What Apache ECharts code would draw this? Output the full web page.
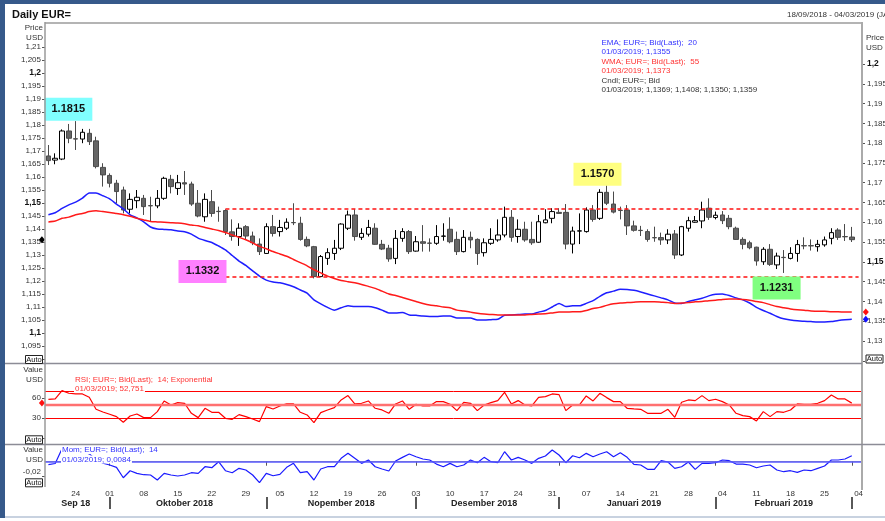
<!DOCTYPE html>
<html>
<head>
<meta charset="utf-8">
<title>Daily EUR=</title>
<script src="https://cdn.jsdelivr.net/npm/echarts@6.0.0/dist/echarts.min.js"></script>
<style>
  html, body { margin: 0; padding: 0; background: #fff; }
  #chart { width: 885px; height: 521px; }
</style>
</head>
<body>
<div id="chart"></div>
<script>
// trading calendar (weekdays only) shown on the time axis
const firstDay = '2018-09-18';
const lastDay = '2019-03-04';
const monthLabels = ['Sep 18', 'Oktober 2018', 'Nopember 2018', 'Desember 2018', 'Januari 2019', 'Februari 2019'];

// daily candles (left scale)
const opens = [
  1.1681, 1.1665, 1.1669, 1.1777, 1.1747, 1.1746, 1.1768, 1.1739, 1.1637, 1.1606,
  1.1576, 1.1550, 1.1476, 1.1509, 1.1518, 1.1490, 1.1489, 1.1518, 1.1591, 1.1556,
  1.1578, 1.1573, 1.1499, 1.1447, 1.1505, 1.1468, 1.1471, 1.1389, 1.1371, 1.1409,
  1.1373, 1.1342, 1.1306, 1.1409, 1.1390, 1.1403, 1.1425, 1.1422, 1.1360, 1.1332,
  1.1217, 1.1287, 1.1306, 1.1326, 1.1403, 1.1454, 1.1368, 1.1380, 1.1403, 1.1341,
  1.1326, 1.1287, 1.1364, 1.1390, 1.1315, 1.1351, 1.1346, 1.1345, 1.1372, 1.1399,
  1.1360, 1.1313, 1.1368, 1.1360, 1.1309, 1.1345, 1.1358, 1.1377, 1.1445, 1.1371,
  1.1399, 1.1360, 1.1349, 1.1424, 1.1441, 1.1464, 1.1464, 1.1342, 1.1392, 1.1390,
  1.1473, 1.1441, 1.1541, 1.1496, 1.1472, 1.1473, 1.1412, 1.1395, 1.1390, 1.1367,
  1.1367, 1.1358, 1.1381, 1.1300, 1.1403, 1.1426, 1.1431, 1.1480, 1.1444, 1.1454,
  1.1441, 1.1403, 1.1360, 1.1347, 1.1330, 1.1274, 1.1322, 1.1262, 1.1291, 1.1287,
  1.1306, 1.1336, 1.1336, 1.1332, 1.1339, 1.1364, 1.1396, 1.1371, 1.1369
];
const closes = [
  1.1663, 1.1672, 1.1777, 1.1749, 1.1746, 1.1772, 1.1736, 1.1640, 1.1608, 1.1576,
  1.1544, 1.1473, 1.1514, 1.1522, 1.1486, 1.1489, 1.1518, 1.1595, 1.1563, 1.1578,
  1.1573, 1.1496, 1.1450, 1.1514, 1.1460, 1.1467, 1.1390, 1.1371, 1.1403, 1.1373,
  1.1347, 1.1313, 1.1409, 1.1383, 1.1406, 1.1426, 1.1424, 1.1360, 1.1335, 1.1217,
  1.1294, 1.1309, 1.1326, 1.1419, 1.1454, 1.1371, 1.1383, 1.1406, 1.1341, 1.1323,
  1.1285, 1.1364, 1.1390, 1.1313, 1.1351, 1.1345, 1.1345, 1.1371, 1.1373, 1.1351,
  1.1313, 1.1368, 1.1358, 1.1306, 1.1347, 1.1360, 1.1377, 1.1445, 1.1368, 1.1399,
  1.1358, 1.1347, 1.1428, 1.1435, 1.1467, 1.1460, 1.1342, 1.1392, 1.1393, 1.1473,
  1.1437, 1.1541, 1.1499, 1.1465, 1.1471, 1.1412, 1.1395, 1.1394, 1.1360, 1.1366,
  1.1358, 1.1380, 1.1300, 1.1409, 1.1432, 1.1432, 1.1473, 1.1445, 1.1453, 1.1432,
  1.1409, 1.1360, 1.1341, 1.1328, 1.1277, 1.1322, 1.1264, 1.1296, 1.1290, 1.1306,
  1.1340, 1.1335, 1.1335, 1.1341, 1.1358, 1.1386, 1.1368, 1.1370, 1.1359
];
const lows = [
  1.1646, 1.1649, 1.1665, 1.1730, 1.1704, 1.1730, 1.1723, 1.1633, 1.1563, 1.1560,
  1.1499, 1.1460, 1.1460, 1.1480, 1.1454, 1.1428, 1.1480, 1.1512, 1.1537, 1.1531,
  1.1531, 1.1489, 1.1445, 1.1428, 1.1447, 1.1428, 1.1377, 1.1355, 1.1335, 1.1358,
  1.1338, 1.1300, 1.1304, 1.1371, 1.1371, 1.1396, 1.1415, 1.1355, 1.1330, 1.1210,
  1.1215, 1.1262, 1.1281, 1.1319, 1.1396, 1.1355, 1.1358, 1.1371, 1.1339, 1.1319,
  1.1274, 1.1265, 1.1351, 1.1304, 1.1313, 1.1313, 1.1313, 1.1339, 1.1355, 1.1345,
  1.1300, 1.1310, 1.1326, 1.1262, 1.1294, 1.1339, 1.1351, 1.1368, 1.1351, 1.1347,
  1.1351, 1.1339, 1.1347, 1.1422, 1.1422, 1.1458, 1.1322, 1.1306, 1.1342, 1.1386,
  1.1428, 1.1435, 1.1492, 1.1460, 1.1437, 1.1377, 1.1390, 1.1373, 1.1351, 1.1351,
  1.1339, 1.1342, 1.1285, 1.1296, 1.1390, 1.1424, 1.1403, 1.1435, 1.1437, 1.1419,
  1.1399, 1.1358, 1.1322, 1.1322, 1.1259, 1.1262, 1.1258, 1.1246, 1.1231, 1.1283,
  1.1274, 1.1322, 1.1317, 1.1313, 1.1332, 1.1341, 1.1358, 1.1354, 1.1350
];
const highs = [
  1.1723, 1.1691, 1.1783, 1.1804, 1.1815, 1.1785, 1.1785, 1.1755, 1.1653, 1.1614,
  1.1589, 1.1563, 1.1537, 1.1550, 1.1531, 1.1524, 1.1550, 1.1601, 1.1608, 1.1608,
  1.1623, 1.1582, 1.1550, 1.1537, 1.1550, 1.1486, 1.1476, 1.1437, 1.1422, 1.1415,
  1.1390, 1.1364, 1.1422, 1.1454, 1.1435, 1.1441, 1.1499, 1.1447, 1.1371, 1.1335,
  1.1300, 1.1326, 1.1358, 1.1422, 1.1471, 1.1476, 1.1403, 1.1435, 1.1422, 1.1358,
  1.1339, 1.1396, 1.1403, 1.1396, 1.1373, 1.1415, 1.1364, 1.1415, 1.1422, 1.1445,
  1.1390, 1.1396, 1.1390, 1.1364, 1.1364, 1.1403, 1.1437, 1.1486, 1.1473, 1.1437,
  1.1428, 1.1428, 1.1454, 1.1476, 1.1480, 1.1480, 1.1496, 1.1409, 1.1460, 1.1483,
  1.1492, 1.1553, 1.1568, 1.1544, 1.1486, 1.1492, 1.1432, 1.1412, 1.1399, 1.1409,
  1.1386, 1.1399, 1.1396, 1.1412, 1.1447, 1.1450, 1.1505, 1.1518, 1.1467, 1.1469,
  1.1454, 1.1409, 1.1368, 1.1355, 1.1332, 1.1330, 1.1342, 1.1309, 1.1319, 1.1330,
  1.1358, 1.1368, 1.1360, 1.1358, 1.1371, 1.1403, 1.1403, 1.1419, 1.1408
];

// moving averages, plotted against the right-hand price scale
const ema20 = [
  1.1619, 1.1624, 1.1635, 1.1644, 1.1651, 1.1661, 1.1674, 1.1674, 1.1667, 1.1659,
  1.1646, 1.1634, 1.1619, 1.1611, 1.1601, 1.1588, 1.1583, 1.1582, 1.1581, 1.1578,
  1.1576, 1.1570, 1.1560, 1.1554, 1.1549, 1.1540, 1.1530, 1.1516, 1.1502, 1.1491,
  1.1477, 1.1464, 1.1454, 1.1449, 1.1447, 1.1443, 1.1437, 1.1429, 1.1421, 1.1404,
  1.1394, 1.1385, 1.1378, 1.1384, 1.1389, 1.1387, 1.1387, 1.1387, 1.1384, 1.1378,
  1.1371, 1.1371, 1.1372, 1.1366, 1.1365, 1.1363, 1.1362, 1.1362, 1.1363, 1.1363,
  1.1358, 1.1358, 1.1358, 1.1353, 1.1353, 1.1354, 1.1355, 1.1365, 1.1366, 1.1367,
  1.1368, 1.1368, 1.1373, 1.1377, 1.1386, 1.1395, 1.1387, 1.1389, 1.1389, 1.1395,
  1.1402, 1.1413, 1.1422, 1.1426, 1.1431, 1.1430, 1.1428, 1.1424, 1.1419, 1.1414,
  1.1409, 1.1404, 1.1396, 1.1395, 1.1400, 1.1404, 1.1408, 1.1414, 1.1418, 1.1419,
  1.1415, 1.1409, 1.1404, 1.1396, 1.1385, 1.1377, 1.1370, 1.1362, 1.1356, 1.1353,
  1.1351, 1.1350, 1.1349, 1.1348, 1.1348, 1.1349, 1.1352, 1.1354, 1.1355
];
const wma55 = [
  1.1601, 1.1603, 1.1610, 1.1613, 1.1619, 1.1622, 1.1627, 1.1629, 1.1627, 1.1625,
  1.1622, 1.1619, 1.1615, 1.1610, 1.1606, 1.1602, 1.1601, 1.1600, 1.1599, 1.1598,
  1.1596, 1.1593, 1.1591, 1.1587, 1.1583, 1.1579, 1.1574, 1.1568, 1.1562, 1.1556,
  1.1548, 1.1539, 1.1533, 1.1526, 1.1520, 1.1514, 1.1506, 1.1498, 1.1490, 1.1480,
  1.1472, 1.1464, 1.1458, 1.1453, 1.1450, 1.1447, 1.1443, 1.1438, 1.1433, 1.1426,
  1.1419, 1.1415, 1.1410, 1.1405, 1.1400, 1.1395, 1.1391, 1.1389, 1.1386, 1.1384,
  1.1378, 1.1376, 1.1373, 1.1370, 1.1368, 1.1367, 1.1366, 1.1366, 1.1366, 1.1366,
  1.1366, 1.1367, 1.1368, 1.1369, 1.1371, 1.1373, 1.1373, 1.1374, 1.1374, 1.1377,
  1.1382, 1.1385, 1.1390, 1.1394, 1.1396, 1.1397, 1.1398, 1.1399, 1.1399, 1.1399,
  1.1398, 1.1397, 1.1395, 1.1396, 1.1397, 1.1399, 1.1400, 1.1402, 1.1403, 1.1405,
  1.1406, 1.1406, 1.1405, 1.1403, 1.1400, 1.1397, 1.1392, 1.1387, 1.1384, 1.1381,
  1.1379, 1.1378, 1.1376, 1.1375, 1.1375, 1.1374, 1.1374, 1.1373, 1.1373
];

// RSI(14) and momentum(14) panels
const rsi14 = [
  58.5, 59, 71.5, 67.5, 66.5, 66.5, 61.5, 43.5, 39.5, 36,
  32.5, 24, 33.5, 36.5, 31, 31, 40, 56, 50, 53.5,
  52.5, 37.5, 31, 45, 39, 39, 30, 28.5, 35.5, 32.5,
  29, 25, 47.5, 44, 48.5, 51.5, 51.5, 39, 35, 23.5,
  38.5, 42.5, 46, 57.5, 64, 51.5, 52.5, 56, 45, 42.5,
  37.5, 51.5, 56, 43.5, 51, 48.5, 48.5, 55, 55, 51,
  41.5, 54, 52.5, 41.5, 50, 53.5, 56.5, 69, 51.5, 56.5,
  50, 48.5, 61.5, 62.5, 66.5, 65.5, 41.5, 50, 50, 63.5,
  56, 67.5, 61, 55, 55, 45, 44, 43.5, 37.5, 37.5,
  37.5, 43.5, 31.5, 54, 57.5, 56.5, 64, 56.5, 58.5, 55,
  50, 37.5, 34, 32.5, 26, 40, 32.5, 40, 39, 42.5,
  51.5, 51, 51, 52.5, 56.5, 65, 59, 59, 52.751
];
const mom14 = [
  -0.0040, -0.0025, 0.0180, 0.0190, 0.0170, 0.0140, 0.0110, 0.0030, -0.0020, -0.0046,
  -0.0079, -0.0224, -0.0126, -0.0163, -0.0182, -0.0186, -0.0256, -0.0163, -0.0186, -0.0200,
  -0.0186, -0.0154, -0.0163, -0.0070, -0.0084, 0.0000, -0.0126, -0.0154, -0.0093, -0.0116,
  -0.0186, -0.0294, -0.0163, -0.0196, -0.0177, -0.0079, -0.0023, -0.0154, -0.0140, -0.0256,
  -0.0102, -0.0070, -0.0070, 0.0047, 0.0117, 0.0047, -0.0023, 0.0024, -0.0070, -0.0102,
  -0.0130, 0.0010, 0.0061, 0.0108, 0.0070, 0.0038, 0.0024, -0.0033, -0.0070, -0.0023,
  -0.0070, -0.0046, 0.0024, -0.0014, 0.0061, 0.0000, -0.0014, 0.0140, 0.0024, 0.0061,
  0.0024, -0.0023, 0.0047, 0.0080, 0.0164, 0.0094, -0.0014, 0.0084, 0.0056, 0.0117,
  0.0070, 0.0108, 0.0140, 0.0070, 0.0126, 0.0061, -0.0037, -0.0046, -0.0107, -0.0107,
  0.0014, -0.0004, -0.0093, -0.0070, -0.0004, -0.0107, -0.0023, -0.0023, -0.0014, 0.0024,
  0.0014, -0.0033, -0.0033, -0.0046, -0.0084, -0.0060, -0.0046, -0.0116, -0.0140, -0.0126,
  -0.0149, -0.0116, -0.0126, -0.0093, -0.0060, 0.0024, 0.0024, 0.0038, 0.0084
];

// horizontal channel and callout labels drawn on the price panel
const channelLevels = [1.1477, 1.1215];
const calloutTexts = ['1.1815', '1.1332', '1.1570', '1.1231'];

// axis tick values
const leftPriceTicks = [1.09, 1.095, 1.1, 1.105, 1.11, 1.115, 1.12, 1.125, 1.13, 1.135, 1.14, 1.145,
  1.15, 1.155, 1.16, 1.165, 1.17, 1.175, 1.18, 1.185, 1.19, 1.195, 1.2, 1.205, 1.21];
const rightPriceTicks = [1.125, 1.13, 1.135, 1.14, 1.145, 1.15, 1.155, 1.16, 1.165, 1.17, 1.175,
  1.18, 1.185, 1.19, 1.195, 1.2];
const rsiTicks = [0, 30, 60];
const momTicks = [-0.02];

const dates = [];
for (let d = new Date(firstDay + 'T00:00:00Z'); d <= new Date(lastDay + 'T00:00:00Z'); d.setUTCDate(d.getUTCDate() + 1)) {
  const wd = d.getUTCDay();
  if (wd !== 0 && wd !== 6) dates.push(d.toISOString().slice(0, 10));
}
const last = closes.length - 1;
const candles = opens.map((o, i) => [o, closes[i], lows[i], highs[i]]);

const FONT = 'Arial, "Liberation Sans", sans-serif';
const comma = (v, d) => v.toFixed(d).replace('.', ',');
const dmy = s => s.slice(8, 10) + '/' + s.slice(5, 7) + '/' + s.slice(0, 4);
const isMonday = s => new Date(s + 'T00:00:00Z').getUTCDay() === 1;

// month groups for the second row of the time axis
const groups = [];
dates.forEach((d, i) => {
  const k = d.slice(0, 7);
  if (!groups.length || groups[groups.length - 1].k !== k) groups.push({ k: k, first: i, last: i });
  else groups[groups.length - 1].last = i;
});
const monthStarts = new Set(groups.slice(1).map(g => g.first));
const monthMid = {};
groups.forEach((g, j) => {
  if (monthLabels[j]) monthMid[Math.round((g.first + g.last) / 2)] = monthLabels[j];
});

function priceLabel(v) {
  const s = String(Math.round(v * 1000) / 1000).replace('.', ',');
  return Math.round(v * 1000) % 50 === 0 ? '{b|' + s + '}' : s;
}

function text(str, x, y, o) {
  o = o || {};
  const style = {
    text: str, x: x, y: y,
    font: (o.bold ? 'bold ' : '') + (o.size || 8) + 'px ' + FONT,
    fill: o.color || '#222',
    align: o.align || 'left',
    verticalAlign: 'middle'
  };
  if (o.bg) { style.backgroundColor = o.bg; style.padding = [0, 1]; }
  return { type: 'text', z: 100, silent: true, style: style };
}
function line(x1, y1, x2, y2, color, w) {
  return { type: 'line', z: 90, silent: true, shape: { x1: x1, y1: y1, x2: x2, y2: y2 }, style: { stroke: color, lineWidth: w } };
}
function autoBox(x, y) {
  return [
    { type: 'rect', z: 100, silent: true, shape: { x: x, y: y, width: 17, height: 8 }, style: { fill: '#fff', stroke: '#222', lineWidth: 1 } },
    { type: 'text', z: 101, silent: true, style: { text: 'Auto', x: x + 8.5, y: y + 4.3, align: 'center', verticalAlign: 'middle', font: '7.5px ' + FONT, fill: '#111' } }
  ];
}
function callout(idx, price, str, color, dx) {
  return {
    coord: [dates[idx], price], symbol: 'rect', symbolSize: [48, 23], symbolOffset: [dx, 0],
    itemStyle: { color: color },
    label: { show: true, position: 'inside', formatter: str, color: '#111', fontWeight: 'bold', fontSize: 11, fontFamily: FONT }
  };
}
function edgeMark(idx, value, color, dx) {
  return { coord: [dates[idx], value], symbol: 'diamond', symbolSize: [6, 7], symbolOffset: [dx, 0], itemStyle: { color: color }, label: { show: false } };
}

const hiddenX = g => ({ type: 'category', gridIndex: g, data: dates, show: false });
const tickStyle = { color: '#555', width: 1 };
const labelBase = { fontSize: 8, color: '#333', fontFamily: FONT };

const chart = echarts.init(document.getElementById('chart'));
chart.setOption({
  animation: false,
  backgroundColor: '#ffffff',
  grid: [
    { left: 45, width: 817, top: 21, height: 338, outerBoundsMode: 'none' },
    { left: 45, width: 817, top: 24.4, height: 336.4, outerBoundsMode: 'none' },
    { left: 45, width: 817, top: 371.6, height: 66.7, outerBoundsMode: 'none' },
    { left: 45, width: 817, top: 444, height: 43, outerBoundsMode: 'none' }
  ],
  xAxis: [
    hiddenX(0), hiddenX(1), hiddenX(2),
    {
      type: 'category', gridIndex: 3, data: dates,
      axisLine: { show: true, lineStyle: { color: '#9a9a9a', width: 1 } },
      axisTick: { show: true, alignWithLabel: true, length: 4, interval: i => monthStarts.has(i), lineStyle: tickStyle },
      axisLabel: Object.assign({ interval: (i, v) => isMonday(v), formatter: v => v.slice(8, 10), margin: 3 }, labelBase),
      splitLine: { show: false }
    },
    {
      type: 'category', gridIndex: 3, data: dates, position: 'bottom', offset: 10,
      axisLine: { show: false },
      axisTick: { show: true, alignWithLabel: true, length: 12, interval: i => monthStarts.has(i), lineStyle: { color: '#222', width: 1.5 } },
      axisLabel: { interval: i => monthMid[i] !== undefined, formatter: (v, i) => monthMid[i] || '', margin: 2,
        fontSize: 9, fontWeight: 'bold', color: '#222', fontFamily: FONT },
      splitLine: { show: false }
    }
  ],
  yAxis: [
    {
      type: 'value', gridIndex: 0, min: 1.09, max: 1.22, position: 'left',
      axisLine: { show: false }, splitLine: { show: false },
      axisTick: { show: true, length: 3, customValues: leftPriceTicks, lineStyle: tickStyle },
      axisLabel: Object.assign({ customValues: leftPriceTicks.slice(1), formatter: priceLabel, margin: 4,
        rich: { b: { fontWeight: 'bold', fontSize: 8.5, color: '#111', fontFamily: FONT } } }, labelBase)
    },
    {
      type: 'value', gridIndex: 1, min: 1.125, max: 1.21, position: 'right',
      axisLine: { show: false }, splitLine: { show: false },
      axisTick: { show: true, length: 3, customValues: rightPriceTicks, lineStyle: tickStyle },
      axisLabel: Object.assign({ customValues: rightPriceTicks.slice(1), formatter: priceLabel, margin: 5,
        rich: { b: { fontWeight: 'bold', fontSize: 8.5, color: '#111', fontFamily: FONT } } }, labelBase)
    },
    {
      type: 'value', gridIndex: 2, min: 0, max: 100,
      axisLine: { show: false }, splitLine: { show: false },
      axisTick: { show: true, length: 3, customValues: rsiTicks, lineStyle: tickStyle },
      axisLabel: Object.assign({ customValues: rsiTicks.slice(1), margin: 4 }, labelBase)
    },
    {
      type: 'value', gridIndex: 3, min: -0.0354, max: 0.0248,
      axisLine: { show: false }, splitLine: { show: false },
      axisTick: { show: true, length: 3, customValues: momTicks, lineStyle: tickStyle },
      axisLabel: Object.assign({ customValues: momTicks, formatter: v => comma(v, 2), margin: 4, verticalAlign: 'bottom' }, labelBase)
    }
  ],
  series: [
    {
      type: 'candlestick', name: 'Cndl', xAxisIndex: 0, yAxisIndex: 0, data: candles, barWidth: 5,
      itemStyle: { color: '#ffffff', color0: '#666666', borderColor: '#000000', borderColor0: '#4a4a4a', borderWidth: 1 },
      markLine: {
        silent: true, symbol: ['none', 'none'], label: { show: false },
        lineStyle: { color: '#ff1010', type: [4, 3], width: 1.5 },
        data: channelLevels.map(v => [{ coord: [dates[26], v] }, { coord: [dates[dates.length - 1], v] }])
      },
      markPoint: {
        silent: true,
        data: [
          callout(3, 1.1861, calloutTexts[0], '#80ffff', -0.5),
          callout(23, 1.1237, calloutTexts[1], '#ff80ff', -2.5),
          callout(81, 1.1611, calloutTexts[2], '#ffff80', -2.4),
          callout(107, 1.1173, calloutTexts[3], '#80ff80', -0.3),
          edgeMark(0, closes[last], '#000', -6.5)
        ]
      }
    },
    {
      type: 'line', name: 'EMA', xAxisIndex: 1, yAxisIndex: 1, data: ema20, showSymbol: false, smooth: 0.2,
      lineStyle: { color: '#1e1eff', width: 1.5 }, itemStyle: { color: '#1e1eff' },
      markPoint: { silent: true, data: [edgeMark(last, ema20[last], '#1010ff', 14)] }
    },
    {
      type: 'line', name: 'WMA', xAxisIndex: 1, yAxisIndex: 1, data: wma55, showSymbol: false, smooth: 0.2,
      lineStyle: { color: '#ff1a1a', width: 1.5 }, itemStyle: { color: '#ff1a1a' },
      markPoint: { silent: true, data: [edgeMark(last, wma55[last], '#ff1010', 14)] }
    },
    {
      type: 'line', name: 'RSI', xAxisIndex: 2, yAxisIndex: 2, data: rsi14, showSymbol: false,
      lineStyle: { color: '#ff0000', width: 1.2 }, itemStyle: { color: '#ff0000' },
      markLine: {
        silent: true, symbol: ['none', 'none'], label: { show: false },
        lineStyle: { color: '#ff0000', type: 'solid', width: 1 },
        data: [{ yAxis: 70 }, { yAxis: 50, lineStyle: { color: '#ff7070', width: 2.3, type: 'solid' } }, { yAxis: 30 }]
      },
      markPoint: { silent: true, data: [edgeMark(0, rsi14[last], '#ff1010', -6.5)] }
    },
    {
      type: 'line', name: 'Mom', xAxisIndex: 3, yAxisIndex: 3, data: mom14, showSymbol: false,
      lineStyle: { color: '#1a1aff', width: 1.2 }, itemStyle: { color: '#1a1aff' },
      markLine: {
        silent: true, symbol: ['none', 'none'], label: { show: false },
        lineStyle: { color: '#5a5aff', type: 'solid', width: 1.5 },
        data: [{ yAxis: 0 }]
      }
    }
  ],
  graphic: [
    // window frame
    { type: 'rect', z: 95, silent: true, shape: { x: 0, y: 0, width: 885, height: 4 }, style: { fill: '#36598a' } },
    { type: 'rect', z: 95, silent: true, shape: { x: 0, y: 0, width: 5, height: 518 }, style: { fill: '#36598a' } },
    { type: 'rect', z: 95, silent: true, shape: { x: 5, y: 516, width: 880, height: 2 }, style: { fill: '#c8d2e0' } },
    // plot frame and panel separators
    line(45, 23, 862, 23, '#b4b4b4', 2),
    line(45, 22, 45, 487, '#9a9a9a', 1.5),
    line(862, 22, 862, 490, '#aaaaaa', 2),
    line(5, 363.5, 862, 363.5, '#8c8c96', 1.5),
    line(5, 444.5, 885, 444.5, '#8c8c96', 1.5),
    // titles
    text('Daily EUR=', 12, 15, { bold: true, size: 11, color: '#111' }),
    text(dmy(firstDay) + ' - ' + dmy(lastDay) + ' (JAKARTA)', 787, 15, { color: '#333' }),
    // axis captions
    text('Price', 43, 27.5, { align: 'right', color: '#333' }),
    text('USD', 43, 37.3, { align: 'right', color: '#333' }),
    text('Price', 866, 37.5, { color: '#333' }),
    text('USD', 866, 47.3, { color: '#333' }),
    text('Value', 43, 369.5, { align: 'right', color: '#333' }),
    text('USD', 43, 379.3, { align: 'right', color: '#333' }),
    text('Value', 43, 449.5, { align: 'right', color: '#333' }),
    text('USD', 43, 460, { align: 'right', color: '#333' }),
    ...autoBox(25.5, 355.5),
    ...autoBox(866, 355),
    ...autoBox(25.5, 435.8),
    ...autoBox(25.5, 478.8),
    // indicator legends
    text('EMA; EUR=; Bid(Last);  20', 601.5, 42.3, { color: '#3333ff' }),
    text(dmy(dates[last]) + '; ' + comma(ema20[last], 4), 601.5, 52, { color: '#3333ff' }),
    text('WMA; EUR=; Bid(Last);  55', 601.5, 61.7, { color: '#ff3333' }),
    text(dmy(dates[last]) + '; ' + comma(wma55[last], 4), 601.5, 71, { color: '#ff3333' }),
    text('Cndl; EUR=; Bid', 601.5, 80.3, { color: '#333' }),
    text(dmy(dates[last]) + '; ' + [opens[last], highs[last], lows[last], closes[last]].map(v => comma(v, 4)).join('; '), 601.5, 90, { color: '#333' }),
    text('RSI; EUR=; Bid(Last);  14; Exponential', 74, 379.5, { color: '#ff3333', bg: '#fff' }),
    text(dmy(dates[last]) + '; ' + comma(rsi14[last], 3), 74, 388.5, { color: '#ff3333', bg: '#fff' }),
    text('Mom; EUR=; Bid(Last);  14', 61, 450, { color: '#3333ff', bg: '#fff' }),
    text(dmy(dates[last]) + '; ' + comma(mom14[last], 4), 61, 459.5, { color: '#3333ff', bg: '#fff' })
  ]
});
</script>
</body>
</html>
